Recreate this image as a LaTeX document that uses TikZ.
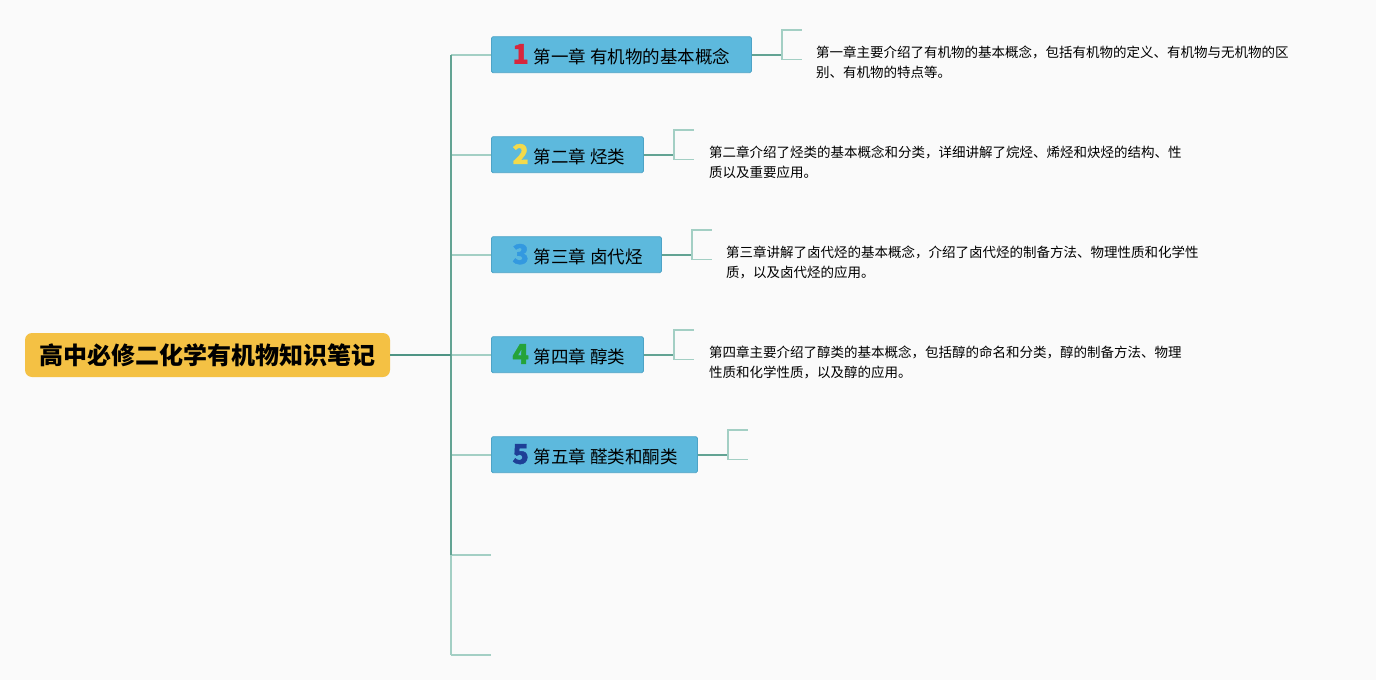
\documentclass[tikz,border=0pt]{standalone}
\usepackage{fontspec}
\setmainfont{Noto Sans CJK SC}
\newfontfamily\numfont{Noto Sans CJK SC}[BoldFeatures={FakeBold=1.5}]
\usetikzlibrary{calc}
\definecolor{bgc}{HTML}{FAFAFA}
\definecolor{rootc}{HTML}{F4C144}
\definecolor{chapc}{HTML}{5DB9DD}
\definecolor{chapborder}{HTML}{4DA3C6}
\definecolor{linedark}{HTML}{4E9484}
\definecolor{linemid}{HTML}{62A393}
\definecolor{linelight}{HTML}{A3CFC4}
\definecolor{nA}{HTML}{D7263D}
\definecolor{nB}{HTML}{F3DA4B}
\definecolor{nC}{HTML}{3399E0}
\definecolor{nD}{HTML}{25A33A}
\definecolor{nE}{HTML}{1E3F96}
\newcommand\chnum[2]{\textcolor{#1}{\numfont\fontsize{27}{27}\selectfont\bfseries #2}\hspace{5pt}}
\newcommand\chbody[2]{\makebox[#1][l]{\hspace{21pt}#2}}
\begin{document}
\begin{tikzpicture}[x=1pt,y=-1pt,
  chap/.style={draw=chapborder, fill=chapc, line width=0.8pt, rounded corners=1.5pt,
    minimum height=36pt, inner sep=0pt, anchor=west, font=\fontsize{17.5}{20}\selectfont},
  rootbox/.style={fill=rootc, rounded corners=7pt, minimum width=365pt, minimum height=44pt,
    inner sep=0pt, font=\fontsize{24}{28}\selectfont\bfseries},
  desc/.style={anchor=north west, inner sep=0pt, align=left, font=\fontsize{13.5}{20.5}\selectfont},
  rootline/.style={draw=linedark, line width=2pt},
  trunk/.style={draw=linemid, line width=2pt},
  branch/.style={draw=linelight, line width=1.6pt},
  link/.style={draw=linemid, line width=1.6pt}
]
\fill[bgc] (0,0) rectangle (1376,680);
\useasboundingbox (0,0) rectangle (1376,680);

% root
\node[rootbox] (root) at (207.5,355) {高中必修二化学有机物知识笔记};

% chapters
\node[chap] (c1) at (491,54.7) {\chbody{260pt}{\chnum{nA}{1}第一章 有机物的基本概念}};
\node[chap] (c2) at (491,154.7) {\chbody{152pt}{\chnum{nB}{2}第二章 烃类}};
\node[chap] (c3) at (491,254.7) {\chbody{170pt}{\chnum{nC}{3}第三章 卤代烃}};
\node[chap] (c4) at (491,354.7) {\chbody{152pt}{\chnum{nD}{4}第四章 醇类}};
\node[chap] (c5) at (491,454.7) {\chbody{206pt}{\chnum{nE}{5}第五章 醛类和酮类}};

% trunk
\coordinate (ttop) at (451,54.7);
\coordinate (troot) at (451,355);
\coordinate (tmid) at (451,554.7);
\coordinate (tbot) at (451,654.7);
\coordinate (e6) at (491,554.7);
\coordinate (e7) at (491,654.7);

\draw[branch] (tmid) -- (tbot);
\draw[branch] (tmid) -- (e6);
\draw[branch] (tbot) -- (e7);
\foreach \i in {1,...,5}{
  \draw[branch] (c\i.west -| ttop) -- (c\i.west);
}
\draw[trunk] (ttop) -- (tmid);
\draw[rootline] (root.east) -- (troot);

% brackets
\foreach \i in {1,...,5}{
  \coordinate (b\i) at ($(c\i.east)+(30,0)$);
  \draw[link] (c\i.east) -- (b\i);
  \draw[branch] ($(b\i)+(20,-24.7)$) -- ($(b\i)+(0,-24.7)$) -- ($(b\i)+(0,4.7)$) -- ($(b\i)+(20,4.7)$);
}

% descriptions
\node[desc] (d1) at ($(b1)+(34,-9)$) {第一章主要介绍了有机物的基本概念，包括有机物的定义、有机物与无机物的区\\别、有机物的特点等。};
\node[desc] (d2) at ($(b2)+(35,-9)$) {第二章介绍了烃类的基本概念和分类，详细讲解了烷烃、烯烃和炔烃的结构、性\\质以及重要应用。};
\node[desc] (d3) at ($(b3)+(34,-9)$) {第三章讲解了卤代烃的基本概念，介绍了卤代烃的制备方法、物理性质和化学性\\质，以及卤代烃的应用。};
\node[desc] (d4) at ($(b4)+(35,-9)$) {第四章主要介绍了醇类的基本概念，包括醇的命名和分类，醇的制备方法、物理\\性质和化学性质，以及醇的应用。};
\end{tikzpicture}
\end{document}
